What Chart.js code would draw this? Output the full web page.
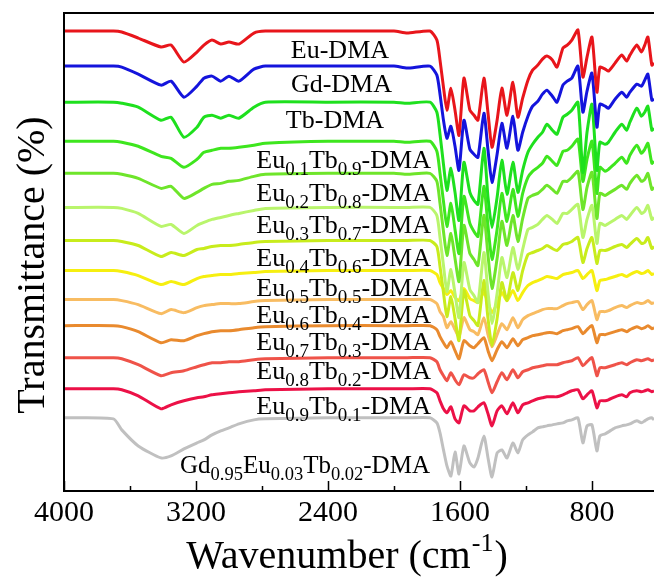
<!DOCTYPE html>
<html><head><meta charset="utf-8">
<script src="https://cdn.jsdelivr.net/npm/chart.js@4.4.0/dist/chart.umd.min.js"></script>
<style>html,body{margin:0;padding:0;background:#fff;overflow:hidden}canvas{display:block}</style>
</head><body>
<canvas id="c" width="654" height="577"></canvas>
<script>
// ---- data ----
const wavenumbers = [4000,3700,3650,3550,3412,3351,3273,3194,3152,3103,3050,3000,2940,2849,2780,2400,2000,1920,1782,1740,1721,1700,1679,1655,1630,1606,1576,1540,1515,1491,1455,1430,1406,1375,1346,1315,1279,1249,1220,1188,1160,1128,1100,1073,1040,1012,976,950,922,885,855,830,800,770,752,720,700,660,619,590,570,528,500,480,461,437,424];
const xTickValues = [4000,3200,2400,1600,800];
const xMinorTickValues = [3600,2800,2000,1200];
const seriesNames = ["Eu-DMA","Gd-DMA","Tb-DMA","Eu0.1Tb0.9-DMA","Eu0.2Tb0.8-DMA","Eu0.3Tb0.7-DMA","Eu0.4Tb0.6-DMA","Eu0.5Tb0.5-DMA","Eu0.6Tb0.4-DMA","Eu0.7Tb0.3-DMA","Eu0.8Tb0.2-DMA","Eu0.9Tb0.1-DMA","Gd0.95Eu0.03Tb0.02-DMA"];
// flat (4000 cm-1) level of each stacked trace
const baselines = [459,424,388,349,317,283,250,220,191,165,133,102,73];
// depth of each trace below its flat level at every wavenumber
const euDMA = [0,0,1,7,16,14,31,21,14,9,13,11,13,2,0, 0,0,2, 0,9,29,56,79,57,79,104,47,79,84,89,47,82,116,89,57,84,51,86,67,49, 39,34,28,25,29,36,17,14,9,-1,46,26,6,61,36,38,40,32,24,30,24,14,21,14,6,34,32];
const gdDMA = [0,0,1,8,19,15,31,20,12,10,15,10,15,3,0, 0,0,2, 0,9,28,54,72,60,80,104,54,83,88,91,47,84,116,88,57,82,50,84,66,50, 40,35,28,24,30,36,19,15,12,0,46,25,7,61,38,40,42,33,26,31,26,18,20,14,8,34,33];
const tbDMA = [0,0,1,5,18,15,35,25,15,13,16,13,16,5,0, 0,0,1, 0,10,32,62,88,66,90,118,60,90,98,102,46,95,125,95,58,92,60,90,68,50, 42,35,30,22,28,32,15,12,8,0,70,30,2,68,40,42,40,30,22,28,20,6,14,10,4,28,26];
const eu01 = [0,0,1,5,15,17,26,18,11,9,7,7,6,4,2, 0,0,1, 0,10,32,60,85,62,88,112,55,82,90,95,45,85,118,88,52,80,48,75,52,36, 30,26,22,15,20,24,10,9,5,-2,40,18,0,52,26,30,28,22,16,22,14,4,12,8,2,22,20];
const eu02 = [0,0,1,5,15,13,25,19,15,11,10,8,7,3,1, 0,0,1, 0,8,30,58,82,60,85,108,52,80,86,92,42,82,115,85,48,72,42,68,45,25, 22,20,16,12,16,20,8,8,4,-2,36,14,-1,45,20,22,20,16,12,16,10,2,8,6,0,16,14];
const eu03 = [0,0,1,6,19,17,26,18,15,12,10,8,6,3,1, 0,0,0, 0,8,30,58,84,62,86,110,55,82,88,95,45,85,116,86,50,70,40,62,42,22, 20,17,12,8,12,16,6,6,2,-3,30,12,-2,36,16,18,16,12,8,12,8,0,6,4,-2,12,10];
const eu04 = [0,0,1,5,16,12,15,9,8,6,5,5,4,2,1, 0,0,0, 0,6,26,52,76,56,78,100,50,75,80,85,40,78,105,78,42,60,32,50,30,14, 12,10,8,5,8,10,4,3,1,-3,22,8,-3,23,10,10,9,6,4,7,4,-2,3,2,-3,8,6];
const eu05 = [0,0,1,5,14,11,14,8,6,5,4,4,3,2,1, 0,0,0, 0,4,12,18,24,20,27,30,18,28,30,32,22,32,42,33,22,30,20,30,22,15, 12,10,8,6,7,8,4,3,2,0,8,4,0,20,10,9,8,6,4,6,4,1,3,2,0,4,3];
const eu06 = [0,0,1,5,14,10,13,8,6,5,4,4,4,2,1, 0,0,0, 0,4,12,17,28,22,30,37,18,30,32,35,18,35,47,35,24,30,18,28,20,16, 14,12,10,9,9,9,6,4,3,2,10,5,1,20,12,12,11,8,6,8,6,3,4,3,1,4,3];
const eu07 = [0,0,1,6,17,14,15,10,8,6,5,5,4,2,1, 0,0,0, 0,4,11,17,22,16,25,33,15,20,22,18,12,25,35,24,16,22,13,20,14,12, 10,9,8,7,7,8,5,4,3,1,8,4,0,17,9,9,8,6,4,6,4,1,3,2,0,3,2];
const eu08 = [0,0,1,7,18,15,13,9,7,5,5,4,4,2,1, 0,0,0, 0,4,12,18,23,15,22,27,17,20,20,16,12,24,35,24,15,22,12,20,14,12, 10,9,8,7,7,7,5,4,3,0,8,4,0,18,10,10,9,7,5,7,5,2,3,2,1,3,2];
const eu09 = [0,0,1,7,20,16,12,9,8,6,5,4,3,2,1, 0,0,0, 0,4,12,20,24,18,30,34,17,22,22,18,14,25,37,22,17,25,14,24,16,14, 12,10,9,8,8,8,6,4,2,1,10,6,2,19,12,12,11,8,6,8,4,2,3,2,1,3,2];
const gdEuTb = [0,1,12,28,40,38,31,25,22,17,13,10,6,2,1, 0,0,0, 0,5,15,32,48,58,34,56,28,45,49,40,18,40,59,35,32,40,25,35,22,17, 14,10,9,8,7,6,5,3,2,0,25,8,7,33,18,16,14,10,8,7,6,3,5,3,1,0,2];
const seriesDips = [euDMA,gdDMA,tbDMA,eu01,eu02,eu03,eu04,eu05,eu06,eu07,eu08,eu09,gdEuTb];
// label text pieces: [text, isSubscript]
const labelSegments = [
  [["Eu-DMA",0]],
  [["Gd-DMA",0]],
  [["Tb-DMA",0]],
  [["Eu",0],["0.1",1],["Tb",0],["0.9",1],["-DMA",0]],
  [["Eu",0],["0.2",1],["Tb",0],["0.8",1],["-DMA",0]],
  [["Eu",0],["0.3",1],["Tb",0],["0.7",1],["-DMA",0]],
  [["Eu",0],["0.4",1],["Tb",0],["0.6",1],["-DMA",0]],
  [["Eu",0],["0.5",1],["Tb",0],["0.5",1],["-DMA",0]],
  [["Eu",0],["0.6",1],["Tb",0],["0.4",1],["-DMA",0]],
  [["Eu",0],["0.7",1],["Tb",0],["0.3",1],["-DMA",0]],
  [["Eu",0],["0.8",1],["Tb",0],["0.2",1],["-DMA",0]],
  [["Eu",0],["0.9",1],["Tb",0],["0.1",1],["-DMA",0]],
  [["Gd",0],["0.95",1],["Eu",0],["0.03",1],["Tb",0],["0.02",1],["-DMA",0]]
];
const yTitle = 'Transmittance (%)';
const xTitleParts = ['Wavenumber (cm', '-1', ')'];

// ---- styling ----
const colors = ["#e8151b","#1414dc","#1ee01e","#3ee61e","#6ee52a","#b9f56c","#c8ec1c","#f6ef10","#f8bc62","#e98a2e","#ef5349","#ec1147","#c0c0c0"];
const SERIF = "'Liberation Serif','Times New Roman',serif";

const datasets = seriesDips.map((dips, k) => ({
  label: seriesNames[k],
  data: wavenumbers.map((w, i) => ({x: w, y: baselines[k] - dips[i]})),
  borderColor: colors[k],
  borderWidth: 3,
  pointRadius: 0,
  tension: 0.2,
  fill: false
}));

const labelPlugin = {
  id: 'specLabels',
  afterDatasetsDraw(chart, args, opts) {
    const {ctx, scales} = chart;
    ctx.save();
    ctx.fillStyle = '#000';
    ctx.textBaseline = 'alphabetic';
    ctx.textAlign = 'left';
    labelSegments.forEach((segs, k) => {
      const a = opts.anchors[k];
      const big = a[2], small = a[3];
      let total = 0;
      segs.forEach(s => { ctx.font = (s[1] ? small : big) + 'px ' + SERIF; total += ctx.measureText(s[0]).width; });
      let x = scales.x.getPixelForValue(a[0]) - total;
      const y = scales.y.getPixelForValue(a[1]);
      segs.forEach(s => {
        ctx.font = (s[1] ? small : big) + 'px ' + SERIF;
        ctx.fillText(s[0], x, y + (s[1] ? opts.subShift : 0));
        x += ctx.measureText(s[0]).width;
      });
    });
    ctx.restore();
  }
};

const framePlugin = {
  id: 'frame',
  afterDraw(chart) {
    const {ctx, chartArea: ca, scales} = chart;
    ctx.save();
    ctx.strokeStyle = '#000';
    ctx.lineWidth = 2;
    ctx.beginPath();
    ctx.moveTo(ca.right + 2, ca.top);
    ctx.lineTo(ca.left, ca.top);
    ctx.lineTo(ca.left, ca.bottom);
    ctx.lineTo(ca.right + 2, ca.bottom);
    ctx.stroke();
    ctx.lineWidth = 1.5;
    ctx.beginPath();
    xTickValues.forEach(v => { const px = Math.round(scales.x.getPixelForValue(v)) + 0.5; ctx.moveTo(px, ca.bottom); ctx.lineTo(px, ca.bottom - 10); });
    xMinorTickValues.forEach(v => { const px = Math.round(scales.x.getPixelForValue(v)) + 0.5; ctx.moveTo(px, ca.bottom); ctx.lineTo(px, ca.bottom - 5); });
    ctx.stroke();
    ctx.fillStyle = '#000';
    ctx.textBaseline = 'alphabetic';
    // x axis title with superscript
    ctx.font = '40px ' + SERIF; const w1 = ctx.measureText(xTitleParts[0]).width, w3 = ctx.measureText(xTitleParts[2]).width;
    ctx.font = '26px ' + SERIF; const w2 = ctx.measureText(xTitleParts[1]).width;
    let x = 346 - (w1 + w2 + w3) / 2; const y = 568;
    ctx.font = '40px ' + SERIF; ctx.fillText(xTitleParts[0], x, y); x += w1;
    ctx.font = '26px ' + SERIF; ctx.fillText(xTitleParts[1], x + 1, y - 17); x += w2 + 2;
    ctx.font = '40px ' + SERIF; ctx.fillText(xTitleParts[2], x, y);
    // y axis title
    ctx.save();
    ctx.translate(44, 265);
    ctx.rotate(-Math.PI / 2);
    ctx.textAlign = 'center';
    ctx.font = '40px ' + SERIF;
    ctx.fillText(yTitle, 0, 0);
    ctx.restore();
    ctx.restore();
  }
};

new Chart(document.getElementById('c'), {
  type: 'line',
  data: { datasets },
  plugins: [labelPlugin, framePlugin],
  options: {
    responsive: false,
    animation: false,
    events: [],
    layout: { padding: { left: 64, right: 0, top: 13, bottom: 42 } },
    plugins: {
      legend: { display: false },
      tooltip: { enabled: false },
      specLabels: {
        subShift: 7,
        anchors: [
          [2030, 432, 26, 19], [2012, 398, 26, 19], [2060, 362, 26, 19],
          [1776, 322, 26, 19], [1776, 289, 26, 19], [1776, 257, 26, 19],
          [1776, 225, 26, 19], [1776, 195, 26, 19], [1776, 168, 26, 19],
          [1776, 141, 26, 19], [1776, 112, 26, 19], [1776, 77, 26, 19],
          [1782, 18, 25, 18.5]
        ]
      }
    },
    scales: {
      x: {
        type: 'linear', reverse: true, min: 424, max: 4000,
        afterBuildTicks: s => { s.ticks = xTickValues.map(v => ({value: v})); },
        grid: { display: false, drawTicks: false },
        border: { display: false },
        ticks: { color: '#000', font: { family: SERIF, size: 30 }, padding: 4, maxRotation: 0, autoSkip: false, callback: v => String(v) },
        title: { display: false }
      },
      y: {
        display: false,
        min: 0, max: 477
      }
    }
  }
});
</script>
</body></html>
